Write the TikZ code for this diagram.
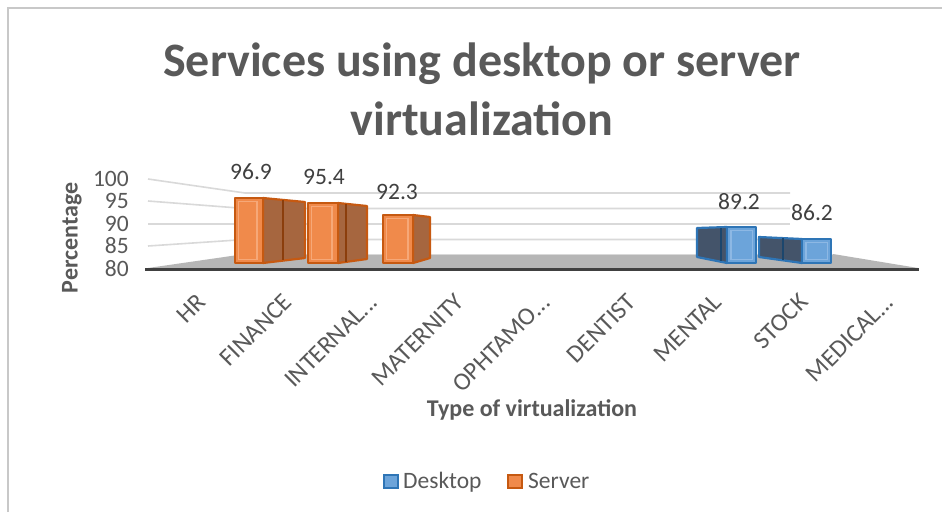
\documentclass[tikz,border=0pt]{standalone}
\usepackage{fontspec}
\setmainfont{Carlito}
\definecolor{gridc}{HTML}{D9D9D9}
\definecolor{axisc}{HTML}{404040}
\definecolor{floorc}{HTML}{B6B6B6}
\definecolor{txtc}{HTML}{595959}
\definecolor{valc}{HTML}{404040}
\definecolor{framec}{HTML}{C8C8C8}
\definecolor{orfront}{HTML}{F08A4B}
\definecolor{orinner}{HTML}{F6A878}
\definecolor{orside}{HTML}{A6663F}
\definecolor{oredge}{HTML}{C65911}
\definecolor{blfront}{HTML}{6CA4DA}
\definecolor{blinner}{HTML}{8DB8E4}
\definecolor{blside}{HTML}{44546A}
\definecolor{bledge}{HTML}{2E75B6}
\tikzset{
  gridline/.style={draw=gridc, line width=1.6pt},
  orfacefront/.style={fill=orfront, draw=oredge, line width=2.4pt, line join=round},
  orfaceside/.style={fill=orside, draw=oredge, line width=2.2pt, line join=round},
  blfacefront/.style={fill=blfront, draw=bledge, line width=2.4pt, line join=round},
  blfaceside/.style={fill=blside, draw=bledge, line width=2.2pt, line join=round},
  ticklab/.style={font=\fontsize{23.5}{26}\selectfont, text=txtc, inner sep=0pt, anchor=east},
  vallab/.style={font=\fontsize{23.5}{26}\selectfont, text=valc, inner sep=0pt},
  catlab/.style={font=\fontsize{25}{28}\selectfont, text=txtc, inner sep=0pt, rotate=45, anchor=north east},
  axtitle/.style={font=\bfseries\fontsize{24}{28}\selectfont, text=txtc, inner sep=0pt},
  legtext/.style={font=\fontsize{23.5}{26}\selectfont, text=txtc, inner sep=0pt, anchor=base west},
}
\begin{document}
\begin{tikzpicture}[x=1pt,y=-1pt]
\useasboundingbox (0,0) rectangle (942,512);
\fill[white] (0,0) rectangle (942,512);
% chart frame
\draw[framec, line width=1.6pt] (8,512) -- (8,8) -- (942,8);

% title
\node[font=\bfseries\fontsize{48}{56}\selectfont, text=txtc, anchor=base, inner sep=0pt] (title1) at (482,76) {Services using desktop or server};
\node[font=\bfseries\fontsize{48}{56}\selectfont, text=txtc, anchor=base, inner sep=0pt] (title2) at (482,135) {virtualization};

% floor
\fill[floorc] (148,268) -- (245,254) -- (833,254) -- (918,268) -- cycle;
\draw[gridc, line width=1pt] (245,254) -- (833,254);

% gridlines on side and back walls
\draw[gridline] (148,179) -- (245,193) -- (790,193);
\draw[gridline] (148,201) -- (245,208.5) -- (790,208.5);
\draw[gridline] (148,224) -- (790,224);
\draw[gridline] (148,246) -- (245,239.5) -- (790,239.5);

% category axis
\draw[axisc, line width=3.6pt] (145,269.5) -- (919,269.5);

% server bars (orange), side face to the right
% FINANCE
\filldraw[orfaceside] (263,198) -- (305,202) -- (305,258) -- (263,263) -- cycle;
\draw[oredge!70!black, line width=1.4pt] (283,200) -- (283,260);
\filldraw[orfacefront] (235,198) rectangle (263,263);
\draw[orinner, line width=1.4pt] (238.5,201.5) rectangle (257,259.5);
% INTERNAL
\filldraw[orfaceside] (338,203) -- (367,206) -- (367,259) -- (338,263) -- cycle;
\draw[oredge!70!black, line width=1.4pt] (346,204) -- (346,262);
\filldraw[orfacefront] (308,203) rectangle (338,263);
\draw[orinner, line width=1.4pt] (311.5,206.5) rectangle (332,259.5);
% MATERNITY
\filldraw[orfaceside] (413,215) -- (430,217) -- (430,258) -- (413,263) -- cycle;
\filldraw[orfacefront] (383,215) rectangle (413,263);
\draw[orinner, line width=1.4pt] (386.5,218.5) rectangle (408,259.5);

% desktop bars (blue), side face to the left
% MENTAL
\filldraw[blfaceside] (697,228) -- (727,227) -- (727,263) -- (697,257) -- cycle;
\draw[bledge!60!black, line width=1.4pt] (721,228) -- (721,261);
\filldraw[blfacefront] (727,227) rectangle (756,263);
\draw[blinner, line width=1.4pt] (731,230.5) rectangle (752.5,259.5);
% STOCK
\filldraw[blfaceside] (759,237) -- (802,239) -- (802,263) -- (759,257) -- cycle;
\draw[bledge!60!black, line width=1.4pt] (783,238) -- (783,260);
\filldraw[blfacefront] (802,239) rectangle (831,263);
\draw[blinner, line width=1.4pt] (806,242.5) rectangle (827.5,259.5);

% value axis labels
\node[ticklab] (t100) at (129,179) {100};
\node[ticklab] (t95) at (129,201) {95};
\node[ticklab] (t90) at (129,224) {90};
\node[ticklab] (t85) at (129,246) {85};
\node[ticklab] (t80) at (129,269) {80};

% data labels
\node[vallab] (v1) at (251,172) {96.9};
\node[vallab] (v2) at (324,177) {95.4};
\node[vallab] (v3) at (397,192) {92.3};
\node[vallab] (v4) at (739,202) {89.2};
\node[vallab] (v5) at (812,213) {86.2};

% category labels
\node[catlab] (c1) at (196,292) {HR};
\node[catlab] (c2) at (282,292) {FINANCE};
\node[catlab] (c3) at (368,292) {INTERNAL...};
\node[catlab] (c4) at (454,292) {MATERNITY};
\node[catlab] (c5) at (540,292) {OPHTAMO...};
\node[catlab] (c6) at (626,292) {DENTIST};
\node[catlab] (c7) at (712,292) {MENTAL};
\node[catlab] (c8) at (798,292) {STOCK};
\node[catlab] (c9) at (884,292) {MEDICAL...};

% axis titles
\node[axtitle, rotate=90] (ytitle) at (72,238) {Percentage};
\node[axtitle, anchor=base] (xtitle) at (532,416) {Type of virtualization};

% legend
\filldraw[fill=blfront, draw=bledge, line width=1.6pt] (384,475) rectangle (398,488);
\node[legtext] (lg1) at (403,488) {Desktop};
\filldraw[fill=orfront, draw=oredge, line width=1.6pt] (508,475) rectangle (522,488);
\node[legtext] (lg2) at (528,488) {Server};
\end{tikzpicture}
\end{document}
